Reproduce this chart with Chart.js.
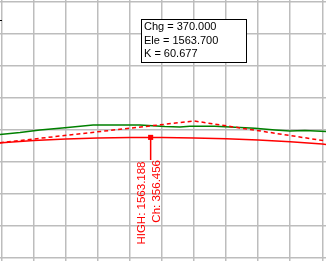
<!DOCTYPE html>
<html>
<head>
<meta charset="utf-8">
<script src="https://cdn.jsdelivr.net/npm/chart.js@4/dist/chart.umd.min.js"></script>
<style>
html,body{margin:0;padding:0;background:#fff;overflow:hidden;}
canvas{display:block;}
</style>
</head>
<body>
<canvas id="c" width="326" height="261"></canvas>
<script>
// ---- data (chainage in m, elevation in m) ----
const xRange = [309.45, 411.17];
const yRange = [1559.331, 1567.475];
const xGridTicks = [310, 320, 330, 340, 350, 360, 370, 380, 390, 400, 410];
const yGridTicks = [1559.43, 1560.43, 1561.43, 1562.43, 1563.43, 1564.43, 1565.43, 1566.43, 1567.43];

const groundCh   = [309.4, 315.7, 321.9, 329.7, 338.5, 353.1, 360.9, 365.6, 368.7, 376.5, 382.8, 389.0, 395.3, 399.9, 404.6, 411.2];
const groundElev = [1563.278, 1563.341, 1563.419, 1563.487, 1563.575, 1563.575, 1563.528, 1563.512, 1563.537, 1563.537, 1563.506, 1563.472, 1563.419, 1563.388, 1563.403, 1563.372];

const curveCh   = [309.4, 310, 320, 330, 340, 350, 356.456, 360, 370, 380, 390, 400, 410, 411.2];
const curveElev = [1563.016, 1563.023, 1563.094, 1563.138, 1563.169, 1563.185, 1563.188, 1563.187, 1563.172, 1563.147, 1563.107, 1563.051, 1562.979, 1562.967];

const tangentCh   = [309.4, 370.0, 411.2];
const tangentElev = [1563.019, 1563.700, 1563.076];

const highCh = 356.456;
const highElev = 1563.188;
const leaderEndElev = 1562.483;

const pviCh = 370.000;
const pviElev = 1563.700;
const kValue = 60.677;

const pts = (xs, ys) => xs.map((x, i) => ({x: x, y: ys[i]}));

const labelsPlugin = {
  id: 'labels',
  afterDatasetsDraw(chart) {
    const ctx = chart.ctx;
    const xs = chart.scales.x, ys = chart.scales.y;
    ctx.save();
    ctx.fillStyle = '#000';
    ctx.fillRect(0, 20, 2, 1);
    const hx = xs.getPixelForValue(highCh);
    const ly = ys.getPixelForValue(leaderEndElev);
    ctx.fillStyle = '#ff0000';
    ctx.font = '11.5px "Liberation Sans", Arial, sans-serif';
    ctx.textAlign = 'right';
    ctx.textBaseline = 'middle';
    ctx.save();
    ctx.translate(hx - 8.5, ly + 1.5);
    ctx.rotate(-Math.PI / 2);
    ctx.fillText('HIGH: ' + highElev.toFixed(3), 0, 0);
    ctx.restore();
    ctx.save();
    ctx.translate(hx + 6.5, ly);
    ctx.rotate(-Math.PI / 2);
    ctx.fillText('Ch: ' + highCh.toFixed(3), 0, 0);
    ctx.restore();
    const px = xs.getPixelForValue(pviCh);
    const bx = Math.round(px - 53) + 0.5, by = 19.5, bw = 105, bh = 43;
    ctx.fillStyle = '#fff';
    ctx.fillRect(bx, by, bw, bh);
    ctx.strokeStyle = '#000';
    ctx.lineWidth = 1;
    ctx.strokeRect(bx, by, bw, bh);
    ctx.fillStyle = '#000';
    ctx.font = '11px "Liberation Sans", Arial, sans-serif';
    ctx.textAlign = 'left';
    ctx.textBaseline = 'middle';
    ctx.fillText('Chg = ' + pviCh.toFixed(3), bx + 2.5, by + 7.5);
    ctx.fillText('Ele = ' + pviElev.toFixed(3), bx + 2.5, by + 21.3);
    ctx.fillText('K = ' + kValue.toFixed(3), bx + 2.5, by + 34.3);
    ctx.restore();
  }
};

const zeroFit = s => {
  if (s.isHorizontal()) { s.height = 0; } else { s.width = 0; }
  s.paddingLeft = 0; s.paddingRight = 0; s.paddingTop = 0; s.paddingBottom = 0;
};

new Chart(document.getElementById('c'), {
  type: 'line',
  data: {
    datasets: [
      { data: [{x: highCh, y: highElev}], borderColor: '#ff0000', backgroundColor: '#ff0000',
        pointStyle: 'rect', pointRadius: 3.6, pointBorderWidth: 0, showLine: false },
      { data: [{x: highCh, y: highElev}, {x: highCh, y: leaderEndElev}], borderColor: '#ff0000',
        borderWidth: 1.5, pointRadius: 0 },
      { data: pts(tangentCh, tangentElev), borderColor: '#ff0000', borderWidth: 1.5,
        borderDash: [4, 3], pointRadius: 0 },
      { data: pts(curveCh, curveElev), borderColor: '#ff0000', borderWidth: 1.5, pointRadius: 0 },
      { data: pts(groundCh, groundElev), borderColor: '#008000', borderWidth: 1.5, pointRadius: 0 }
    ]
  },
  options: {
    responsive: false,
    animation: false,
    events: [],
    layout: { padding: 0, autoPadding: false },
    plugins: { legend: { display: false }, tooltip: { enabled: false } },
    elements: { line: { tension: 0 } },
    scales: {
      x: {
        type: 'linear', min: xRange[0], max: xRange[1],
        afterBuildTicks: s => { s.ticks = xGridTicks.map(v => ({value: v})); },
        afterFit: zeroFit,
        ticks: { display: false, padding: 0 },
        grid: { color: '#bdbdbd', lineWidth: 1.5, drawTicks: false, tickLength: 0 },
        border: { display: false }
      },
      y: {
        type: 'linear', min: yRange[0], max: yRange[1],
        afterBuildTicks: s => { s.ticks = yGridTicks.map(v => ({value: v})); },
        afterFit: zeroFit,
        ticks: { display: false, padding: 0 },
        grid: { color: '#bdbdbd', lineWidth: 1.5, drawTicks: false, tickLength: 0 },
        border: { display: false }
      }
    }
  },
  plugins: [labelsPlugin]
});
</script>
</body>
</html>
